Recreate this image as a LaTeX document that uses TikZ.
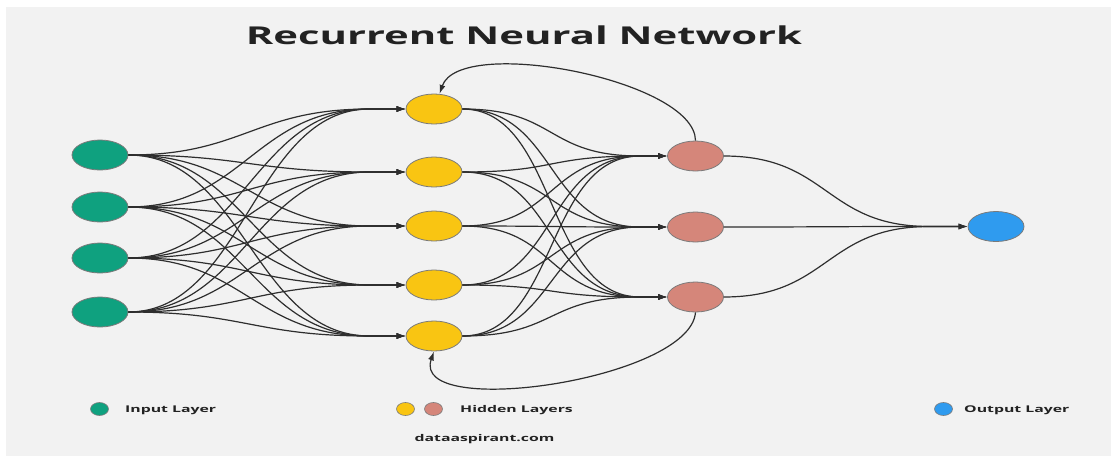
\documentclass[tikz,border=0pt]{standalone}
\usepackage{fontspec}
\setmainfont{Open Sans}
\usetikzlibrary{shapes.geometric,arrows.meta,calc}
\definecolor{bg}{HTML}{F2F2F2}
\definecolor{ingreen}{HTML}{0FA17F}
\definecolor{hidyellow}{HTML}{F9C512}
\definecolor{hidred}{HTML}{D5867A}
\definecolor{outblue}{HTML}{2F9BEF}
\definecolor{nodeborder}{HTML}{7A7A7A}
\definecolor{txt}{HTML}{222222}
\tikzset{
 neuron/.style={ellipse, draw=nodeborder, line width=0.8pt, minimum width=56pt, minimum height=30pt, inner sep=0pt},
 legdot/.style={ellipse, draw=nodeborder, line width=0.6pt, minimum width=18pt, minimum height=13pt, inner sep=0pt},
 conn/.style={draw=black!82, line width=1.2pt, -{Latex[length=9pt,width=6pt]}},
 legendtext/.style={anchor=west, text=txt, font=\fontsize{9.3}{11}\selectfont\bfseries, inner sep=0pt},
}
\newcommand\rnnedge[4]{\draw[conn] (#1.east) .. controls ($(#1.east)+(#3,0)$) and ($(#2.west)+(-#4-#3,0)$) .. ($(#2.west)+(-#4,0)$) -- (#2.west);}
\begin{document}
\begin{tikzpicture}[x=1pt,y=-1pt]
\useasboundingbox (0,0) rectangle (1111,458);
\fill[white] (0,0) rectangle (1111,458);
\fill[bg] (6,7) rectangle (1111,456);

\node[text=txt, inner sep=0pt] (title) at (524,35) {\scalebox{1.7}[1]{\fontsize{24.6}{30}\selectfont\bfseries Recurrent Neural Network}};

\node[neuron, fill=ingreen] (i1) at (100,155) {};
\node[neuron, fill=ingreen] (i2) at (100,207) {};
\node[neuron, fill=ingreen] (i3) at (100,258) {};
\node[neuron, fill=ingreen] (i4) at (100,312) {};

\node[neuron, fill=hidyellow] (h1) at (434,109) {};
\node[neuron, fill=hidyellow] (h2) at (434,172) {};
\node[neuron, fill=hidyellow] (h3) at (434,226) {};
\node[neuron, fill=hidyellow] (h4) at (434,285) {};
\node[neuron, fill=hidyellow] (h5) at (434,336) {};

\node[neuron, fill=hidred] (r1) at (695.5,156) {};
\node[neuron, fill=hidred] (r2) at (695.5,227) {};
\node[neuron, fill=hidred] (r3) at (695.5,297) {};

\node[neuron, fill=outblue] (o) at (996,226.5) {};

\foreach \a in {1,...,4}{\foreach \b in {1,...,5}{\rnnedge{i\a}{h\b}{115}{36}}}
\foreach \a in {1,...,5}{\foreach \b in {1,...,3}{\rnnedge{h\a}{r\b}{95}{27}}}
\foreach \a in {1,...,3}{\rnnedge{r\a}{o}{105}{38}}

\draw[conn] (r1.north) .. controls (695,80) and (460,35) .. (h1.70);
\draw[conn] (r3.south) .. controls (690,380) and (410,420) .. (h5.south);

\node[legdot, fill=ingreen] (lg) at (99.5,409) {};
\node[legdot, fill=hidyellow] (ly) at (405.5,409) {};
\node[legdot, fill=hidred] (lr) at (433.5,409) {};
\node[legdot, fill=outblue] (lb) at (943.5,409) {};
\node[legendtext] (lgt) at (125,410) {\scalebox{1.7}[1]{Input Layer}};
\node[legendtext] (lht) at (460,410) {\scalebox{1.7}[1]{Hidden Layers}};
\node[legendtext] (lot) at (964,410) {\scalebox{1.7}[1]{Output Layer}};
\node[text=txt, inner sep=0pt, font=\fontsize{9.3}{11}\selectfont\bfseries] (site) at (484.5,439) {\scalebox{1.7}[1]{dataaspirant.com}};
\end{tikzpicture}
\end{document}
